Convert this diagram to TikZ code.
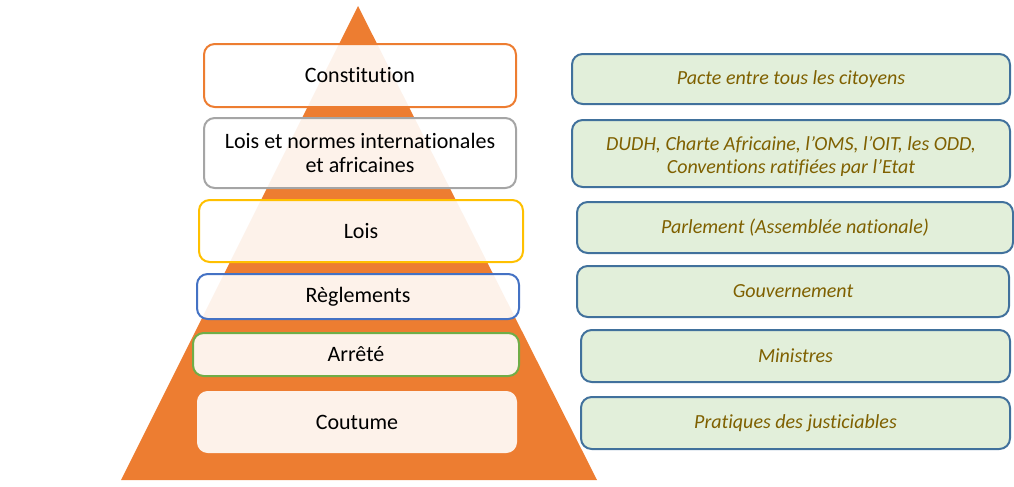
\documentclass[tikz,border=0pt]{standalone}
\usepackage{fontspec}
\setmainfont{Carlito}[Ligatures=NoCommon]
\definecolor{pyr}{HTML}{ED7D31}
\definecolor{cgray}{HTML}{A5A5A5}
\definecolor{cyel}{HTML}{FFC000}
\definecolor{cblue}{HTML}{4472C4}
\definecolor{cgreen}{HTML}{70AD47}
\definecolor{rborder}{HTML}{41719C}
\definecolor{rfill}{HTML}{E2EFDA}
\definecolor{rtext}{HTML}{7F6000}
\tikzset{
  lbox/.style={rounded corners=8pt, fill=white, fill opacity=0.9, text opacity=1, line width=1.5pt, align=center, font=\fontsize{16.5}{17.5}\selectfont, inner sep=0pt},
  rfont/.style={text=rtext, font=\fontsize{15}{17.4}\selectfont\itshape, align=center},
  rbox/.style={rfont, rounded corners=8pt, fill=rfill, draw=rborder, line width=1.5pt, inner sep=0pt}
}
\begin{document}
\begin{tikzpicture}[x=0.75pt,y=-0.75pt]
\useasboundingbox (0,0) rectangle (1014,486);
\fill[pyr] (358,6) coordinate (apex) -- (597,480) coordinate (br) -- (121,480) coordinate (bl) -- cycle;
\node[lbox, draw=pyr, minimum width=234pt, minimum height=47.25pt] (cons) at (360,75.5) {Constitution};
\node[lbox, draw=cgray, minimum width=234pt, minimum height=52.5pt] (lni) at (360,153) {Lois et normes internationales\\et africaines};
\node[lbox, draw=cyel, minimum width=243pt, minimum height=46.5pt] (lois) at (361,231) {Lois};
\node[lbox, draw=cblue, minimum width=241.5pt, minimum height=33.75pt] (regl) at (358,296.5) {Règlements};
\node[lbox, draw=cgreen, minimum width=244.5pt, minimum height=32.25pt] (arr) at (356,354.5) {Arrêté};
\node[lbox, minimum width=240pt, minimum height=46.5pt] (cout) at (357,422) {Coutume};
\node[rbox, minimum width=328.5pt, minimum height=37.5pt] (pacte) at (791,79) {Pacte entre tous les citoyens};
\node[rbox, minimum width=328.5pt, minimum height=50.25pt] (dudh) at (791,153.5) {};
\begin{scope}
\clip (572,120) rectangle (1010,175.5);
\node[rfont, anchor=base] (dudht) at (791,173.5) {DUDH, Charte Africaine, l’OMS, l’OIT, les ODD,\\Conventions ratifiées par l’Etat};
\end{scope}
\node[rbox, minimum width=327pt, minimum height=38.25pt] (parl) at (795,227.5) {Parlement (Assemblée nationale)};
\node[rbox, minimum width=324pt, minimum height=38.25pt] (gouv) at (793,291.5) {Gouvernement};
\node[rbox, minimum width=321.75pt, minimum height=39pt] (mini) at (795.5,356) {Ministres};
\node[rbox, minimum width=321.75pt, minimum height=39pt] (prat) at (795.5,423) {Pratiques des justiciables};
\end{tikzpicture}
\end{document}
